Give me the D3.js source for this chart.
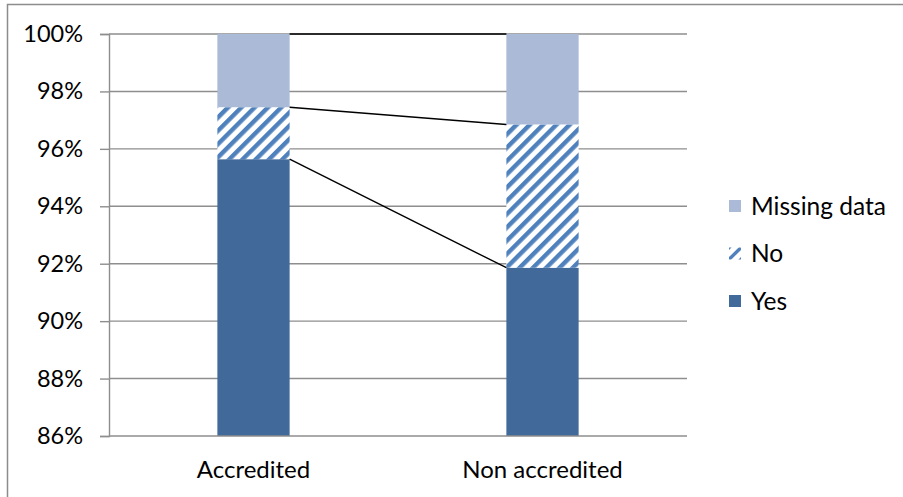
<!DOCTYPE html>
<html>
<head>
<meta charset="utf-8">
<script src="https://cdn.jsdelivr.net/npm/d3@7"></script>
<style>
  html, body { margin: 0; padding: 0; background: #fff; }
  svg { display: block; font-family: Lato, "Liberation Sans", sans-serif; }
</style>
</head>
<body>
<svg id="chart" width="903" height="497"></svg>
<script>
// Accreditation status breakdown (percent of cases)
const categories = ["Accredited", "Non accredited"];
const seriesNames = ["Yes", "No", "Missing data"];
const yesValues = [95.64, 91.86];
const noValues = [1.81, 4.99];
const missingValues = [2.55, 3.15];
const yTicks = [86, 88, 90, 92, 94, 96, 98, 100];

const svg = d3.select("#chart");
const W = 903, H = 497;
const plot = { left: 109, right: 687, top: 34, bottom: 436 };
const fontFamily = "Lato, 'Liberation Sans', sans-serif";

const colors = { "Yes": "#416A9B", "No": "#4F81BD", "Missing data": "#AABAD7" };

// Diagonal stripe pattern for the "No" series
const defs = svg.append("defs");
const pat = defs.append("pattern")
  .attr("id", "stripes")
  .attr("patternUnits", "userSpaceOnUse")
  .attr("width", 9.4).attr("height", 9.4)
  .attr("patternTransform", "rotate(45)");
pat.append("rect").attr("width", 9.4).attr("height", 9.4).attr("fill", "#fff");
pat.append("rect").attr("x", 0).attr("width", 4.4).attr("height", 9.4).attr("fill", colors["No"]);

defs.append("clipPath").attr("id", "plotClip")
  .append("rect")
  .attr("x", plot.left).attr("y", plot.top)
  .attr("width", plot.right - plot.left).attr("height", plot.bottom - plot.top);

defs.append("clipPath").attr("id", "swatchClip")
  .append("rect").attr("width", 12).attr("height", 12);

// Outer chart frame
svg.append("rect")
  .attr("x", 7.5).attr("y", 4.5)
  .attr("width", W + 20).attr("height", H + 20)
  .attr("fill", "none").attr("stroke", "#8c8c8c").attr("stroke-width", 1.5);

const x = d3.scaleBand()
  .domain(categories)
  .range([plot.left, plot.right])
  .paddingInner(0.75)
  .paddingOuter(0.375);

const y = d3.scaleLinear().domain([86, 100]).range([plot.bottom, plot.top]);

// Gridlines
svg.append("g")
  .selectAll("line")
  .data(yTicks.filter(t => t > 86))
  .join("line")
  .attr("x1", plot.left).attr("x2", plot.right)
  .attr("y1", d => y(d)).attr("y2", d => y(d))
  .attr("stroke", "#8e8e8e").attr("stroke-width", 1.4);

// Stack data
const rows = categories.map((c, i) => ({
  category: c, "Yes": yesValues[i], "No": noValues[i], "Missing data": missingValues[i]
}));
const stacked = d3.stack().keys(seriesNames)(rows);

const barsG = svg.append("g").attr("clip-path", "url(#plotClip)");
stacked.forEach(layer => {
  barsG.append("g")
    .selectAll("rect")
    .data(layer)
    .join("rect")
    .attr("x", d => x(d.data.category))
    .attr("width", x.bandwidth())
    .attr("y", d => y(d[1]))
    .attr("height", d => y(d[0]) - y(d[1]))
    .attr("fill", layer.key === "No" ? "url(#stripes)" : colors[layer.key]);
});

// Series lines joining the stack boundaries of adjacent bars
const linesG = svg.append("g");
stacked.forEach(layer => {
  const a = layer[0], b = layer[1];
  linesG.append("line")
    .attr("x1", x(a.data.category) + x.bandwidth())
    .attr("x2", x(b.data.category))
    .attr("y1", y(a[1]))
    .attr("y2", y(b[1]))
    .attr("stroke", "#000").attr("stroke-width", 1.4);
});

// Y axis
const yAxis = d3.axisLeft(y)
  .tickValues(yTicks)
  .tickFormat(d => d + "%")
  .tickSize(9)
  .tickPadding(17);
const yg = svg.append("g").attr("transform", `translate(${plot.left},0)`).call(yAxis);
yg.select(".domain").attr("stroke", "#8e8e8e").attr("stroke-width", 1.4);
yg.selectAll(".tick line").attr("stroke", "#8e8e8e").attr("stroke-width", 1.4);
yg.selectAll(".tick text")
  .attr("fill", "#000")
  .style("font-size", "23.5px")
  .style("font-family", fontFamily);

// X axis baseline and category labels
const xAxis = d3.axisBottom(x).tickSize(0).tickPadding(25);
const xg = svg.append("g").attr("transform", `translate(0,${plot.bottom})`).call(xAxis);
xg.select(".domain").attr("stroke", "#8e8e8e").attr("stroke-width", 1.4)
  .attr("d", `M${plot.left},0H${plot.right}`);
xg.selectAll(".tick text")
  .attr("fill", "#000")
  .style("font-size", "24px")
  .style("font-family", fontFamily);

// Legend (top entry = top of stack)
const legendItems = ["Missing data", "No", "Yes"];
const legend = svg.append("g").attr("transform", "translate(729,200)");
legendItems.forEach((name, i) => {
  const g = legend.append("g").attr("transform", `translate(0,${i * 47.5})`);
  if (name === "No") {
    // hatched swatch: a single diagonal stroke with small corner ticks
    const s = g.append("g").attr("clip-path", "url(#swatchClip)");
    s.append("rect").attr("width", 12).attr("height", 12).attr("fill", "#fff");
    [[0, 12, 12, 0], [-6, 6, 6, -6], [6, 18, 18, 6]].forEach(([x1, y1, x2, y2]) => {
      s.append("line")
        .attr("x1", x1).attr("y1", y1).attr("x2", x2).attr("y2", y2)
        .attr("stroke", colors["No"]).attr("stroke-width", 3.4);
    });
  } else {
    g.append("rect")
      .attr("width", 12).attr("height", 12)
      .attr("fill", colors[name]);
  }
  g.append("text")
    .attr("x", 22).attr("y", 6)
    .attr("dy", "0.35em")
    .style("font-size", "24.5px")
    .style("font-family", fontFamily)
    .attr("fill", "#000")
    .text(name);
});
</script>
</body>
</html>
